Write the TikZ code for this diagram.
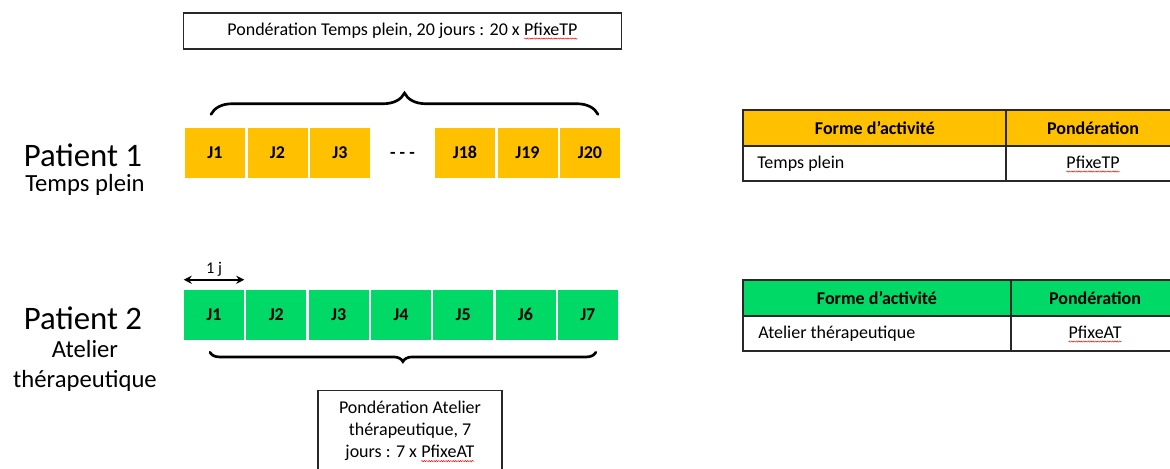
\documentclass[tikz,border=0pt]{standalone}
\usepackage{fontspec}
\setmainfont{Carlito}
\usetikzlibrary{positioning,arrows.meta,decorations.pathreplacing,decorations.pathmorphing}
\definecolor{tpOrange}{RGB}{255,192,0}
\definecolor{atVert}{RGB}{0,217,102}
\definecolor{trait}{RGB}{40,40,40}
% soulignement rouge du correcteur
\newcommand{\spellwave}[1]{\tikz[baseline=0pt]{\node[inner sep=0pt, outer sep=0pt, minimum width=0pt,
    minimum height=0pt, text height=, text depth=, draw=none, fill=none, anchor=base] (sw) at (0,0) {#1};
  \draw[red, line width=0.35pt, decorate, decoration={snake, amplitude=0.45pt, segment length=1.8pt}]
    ([yshift=-2.6pt]sw.base west) -- ([yshift=-2.6pt]sw.base east);}}
\begin{document}
\begin{tikzpicture}[x=0.75pt, y=-0.75pt,
    jour/.style={minimum width=45pt, minimum height=37.5pt, inner sep=0pt,
      text height=8.7pt, text depth=0pt, font=\bfseries\fontsize{13.5}{16}\selectfont},
    cadre/.style={draw=trait, line width=0.8pt, inner sep=0pt,
      font=\fontsize{13.5}{16.5}\selectfont},
    patient/.style={inner sep=0pt, font=\fontsize{24.6}{28}\selectfont},
    typeact/.style={inner sep=0pt, font=\fontsize{18.5}{22.5}\selectfont, align=center},
    accolade/.style={decorate, line width=2pt, line cap=round},
    tabtrait/.style={draw=trait, line width=1.1pt},
    entete/.style={font=\bfseries\fontsize{13.5}{16}\selectfont},
    cellule/.style={font=\fontsize{13.5}{16}\selectfont}]
  \useasboundingbox (0,0) rectangle (1170,468);
  \clip (0,0) rectangle (1170,468);

  \node[patient, text height=17pt, text depth=0pt] (p1) at (83,155) {Patient 1};
  \node[typeact, text height=13pt, text depth=3.5pt] (p1type) at (85,185) {Temps plein};
  \node[patient] (p2) at (83,318) {Patient 2};
  \node[typeact] (p2type) at (85,366) {Atelier\\thérapeutique};

  % temps plein
  \foreach \t [count=\i] in {J1,J2,J3}
    \node[jour, fill=tpOrange] (o\i) at ({215+62.5*(\i-1)},153) {\t};
  \node[jour] (o4) at (402.5,153) {- - -};
  \foreach \t [count=\i from 5] in {J18,J19,J20}
    \node[jour, fill=tpOrange] (o\i) at ({215+62.5*(\i-1)},153) {\t};
  \node[cadre, minimum width=329pt, minimum height=27pt] (pondTP) at (402.5,31)
    {Pondération Temps plein, 20 jours : 20 x \spellwave{PfixeTP}};
  \draw[accolade, decoration={brace, amplitude=16pt}]
    ([xshift=-3pt, yshift=10pt]o1.north) -- ([xshift=6pt, yshift=10pt]o7.north);

  % atelier therapeutique
  \foreach \t [count=\i] in {J1,J2,J3,J4,J5,J6,J7}
    \node[jour, fill=atVert] (g\i) at ({214+62.3*(\i-1)},315) {\t};
  \draw[{Stealth[length=6pt, width=6pt]}-{Stealth[length=6pt, width=6pt]}, line width=1.2pt]
    ([yshift=7.5pt]g1.north west) -- ([yshift=7.5pt]g1.north east)
    node[midway, above, inner sep=2pt, font=\fontsize{12.3}{14}\selectfont] {1 j};
  \draw[accolade, decoration={brace, mirror, amplitude=7pt}]
    ([xshift=-3pt, yshift=-9pt]g1.south) -- ([xshift=6pt, yshift=-9pt]g7.south);
  \node[cadre, anchor=north, minimum width=138pt, minimum height=61.5pt, align=center]
    (pondAT) at (410,390)
    {Pondération Atelier\\thérapeutique, 7\\jours : 7 x \spellwave{PfixeAT}};

  % tableau temps plein
  \fill[tpOrange] (743,110) rectangle (1180,146);
  \draw[tabtrait] (743,110) rectangle (1180,181);
  \draw[tabtrait] (743,146) -- (1180,146);
  \draw[tabtrait] (1006,110) -- (1006,181);
  \node[entete] (th1a) at (875,128) {Forme d’activité};
  \node[entete] (th1b) at (1093,128) {Pondération};
  \node[cellule, anchor=west, inner sep=0pt] (td1a) at (757,164) {Temps plein};
  \node[cellule] (td1b) at (1093,164) {\spellwave{PfixeTP}};

  % tableau atelier
  \fill[atVert] (743,280) rectangle (1180,316);
  \draw[tabtrait] (743,280) rectangle (1180,351);
  \draw[tabtrait] (743,316) -- (1180,316);
  \draw[tabtrait] (1011,280) -- (1011,351);
  \node[entete] (th2a) at (877,298) {Forme d’activité};
  \node[entete] (th2b) at (1095,298) {Pondération};
  \node[cellule, anchor=west, inner sep=0pt] (td2a) at (758,334) {Atelier thérapeutique};
  \node[cellule] (td2b) at (1095,334) {\spellwave{PfixeAT}};
\end{tikzpicture}
\end{document}
